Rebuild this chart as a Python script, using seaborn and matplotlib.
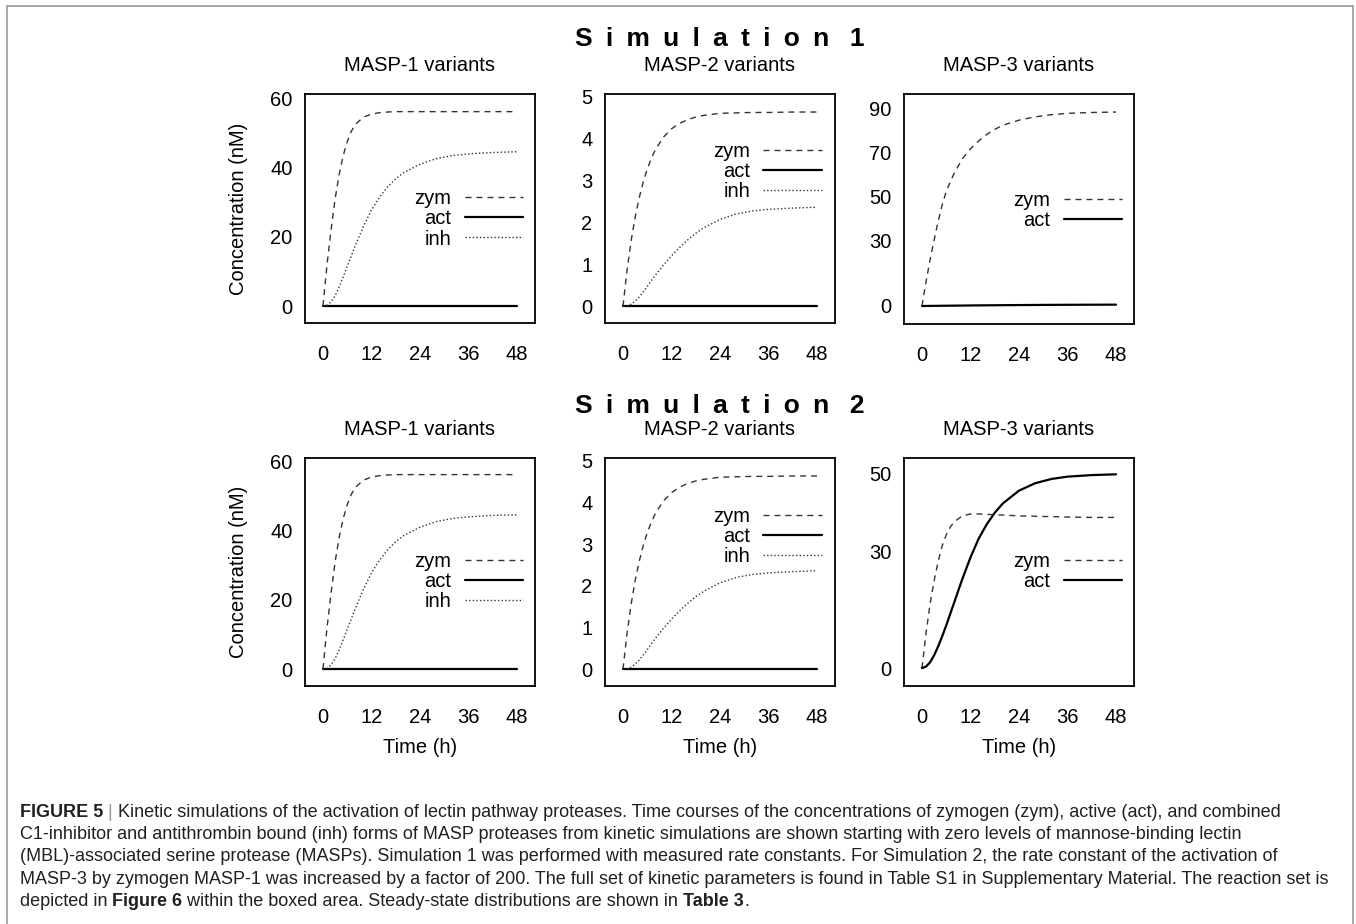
import matplotlib
matplotlib.use("Agg")
import matplotlib.pyplot as plt
from matplotlib.lines import Line2D
import numpy as np
import seaborn as sns

# time grid (h) and concentrations (nM)
hours = [0, 1, 2, 3, 4, 5, 6, 7, 8, 10, 12, 14, 16, 18, 20, 24, 28, 32, 36, 42, 48]

masp1_zym = [0, 12, 22, 31, 38, 43.5, 47.5, 50.5, 52.5, 54.6, 55.5, 55.9, 56.1, 56.2, 56.2,
             56.2, 56.2, 56.2, 56.2, 56.2, 56.2]
masp1_act = [0, 0, 0, 0, 0, 0, 0, 0, 0, 0, 0, 0, 0, 0, 0, 0, 0, 0, 0, 0, 0]
masp1_inh = [0, 0.2, 1.2, 3.0, 5.5, 8.5, 11.5, 14.5, 17.5, 23, 27.8, 31.5, 34.5, 36.8, 38.6,
             41.0, 42.6, 43.5, 44.0, 44.4, 44.6]

masp2_zym = [0, 0.86, 1.55, 2.12, 2.58, 2.96, 3.27, 3.52, 3.73, 4.03, 4.23, 4.36, 4.45, 4.51,
             4.55, 4.60, 4.61, 4.62, 4.62, 4.63, 4.63]
masp2_act = [0, 0, 0, 0, 0, 0, 0, 0, 0, 0, 0, 0, 0, 0, 0, 0, 0, 0, 0, 0, 0]
masp2_inh = [0, 0.01, 0.05, 0.12, 0.22, 0.34, 0.47, 0.61, 0.74, 0.98, 1.2, 1.4, 1.58, 1.74,
             1.87, 2.07, 2.2, 2.27, 2.31, 2.34, 2.36]

masp3_zym_sim1 = [0, 11, 21, 30, 38.5, 46, 52, 56.5, 60.5, 67, 71.5, 75, 78, 80.3, 82.2,
                  84.5, 86, 87, 87.6, 88, 88.2]
masp3_act_sim1 = [0, 0.01, 0.03, 0.05, 0.07, 0.09, 0.11, 0.13, 0.15, 0.19, 0.23, 0.27, 0.3,
                  0.33, 0.36, 0.41, 0.46, 0.5, 0.53, 0.57, 0.6]

masp3_zym_sim2 = [0, 9, 16.5, 22.5, 27.5, 31.5, 34.3, 36.3, 37.7, 39.2, 39.7, 39.7, 39.6,
                  39.5, 39.4, 39.2, 39.1, 39.0, 38.9, 38.8, 38.8]
masp3_act_sim2 = [0, 0.4, 1.5, 3.3, 5.6, 8.2, 11, 14, 17, 23, 28.5, 33.3, 37, 40, 42.4,
                  45.7, 47.6, 48.7, 49.3, 49.7, 49.9]

x_ticks = [0, 12, 24, 36, 48]

sns.set_style("white")
plt.rcParams['font.family'] = ['Liberation Sans', 'DejaVu Sans']
plt.rcParams['text.color'] = 'black'
plt.rcParams['axes.labelcolor'] = 'black'
plt.rcParams['xtick.color'] = 'black'
plt.rcParams['ytick.color'] = 'black'

FS = 14.5
W, H = 1356, 924
fig = plt.figure(figsize=(W / 100, H / 100), dpi=100)
fig.patch.set_facecolor("white")

dash = (0, (4.3, 3.6))
dot = (0, (1, 1.6))

panels = [
    # title, box px (left, top, bottom), ylim, yticks, series, legend anchor
    ("MASP-1 variants", (305, 94, 323), (-4.9, 61.3), [0, 20, 40, 60],
     [("zym", masp1_zym), ("act", masp1_act), ("inh", masp1_inh)], (0.948, 0.583)),
    ("MASP-2 variants", (605, 94, 323), (-0.4, 5.06), [0, 1, 2, 3, 4, 5],
     [("zym", masp2_zym), ("act", masp2_act), ("inh", masp2_inh)], (0.943, 0.792)),
    ("MASP-3 variants", (904, 94, 324), (-8.2, 96.4), [0, 30, 50, 70, 90],
     [("zym", masp3_zym_sim1), ("act", masp3_act_sim1)], (0.948, 0.578)),
    ("MASP-1 variants", (305, 458, 686), (-4.9, 61.0), [0, 20, 40, 60],
     [("zym", masp1_zym), ("act", masp1_act), ("inh", masp1_inh)], (0.948, 0.589)),
    ("MASP-2 variants", (605, 458, 686), (-0.4, 5.06), [0, 1, 2, 3, 4, 5],
     [("zym", masp2_zym), ("act", masp2_act), ("inh", masp2_inh)], (0.943, 0.787)),
    ("MASP-3 variants", (904, 458, 686), (-4.6, 54.1), [0, 30, 50],
     [("zym", masp3_zym_sim2), ("act", masp3_act_sim2)], (0.948, 0.589)),
]

styles = {"zym": (dash, "#333333", 1.0),
          "act": ("-", "black", 1.6),
          "inh": (dot, "#333333", 1.0)}

for i, (title, (bl, bt, bb), ylim, yticks, series, leg) in enumerate(panels):
    ax = fig.add_axes([bl / W, 1 - bb / H, 230 / W, (bb - bt) / H])
    for name, vals in series:
        ls, col, lw = styles[name]
        sns.lineplot(x=hours, y=vals, ax=ax, color=col, linestyle=ls, linewidth=lw,
                     label=name, errorbar=None)
    ax.set_xlim(-4.45, 52.45)
    ax.set_ylim(*ylim)
    ax.set_xticks(x_ticks)
    ax.set_yticks(yticks)
    ax.tick_params(direction="out", length=5.5, width=1, labelsize=FS, colors="black")
    ax.tick_params(axis="x", pad=10.5)
    ax.tick_params(axis="y", pad=3.5)
    for sp in ax.spines.values():
        sp.set_visible(True)
        sp.set_color("black")
        sp.set_linewidth(1.3)
    ax.set_title(title, fontsize=FS, pad=16.5, color="black")
    ax.set_xlabel("")
    ax.set_ylabel("")
    if i % 3 == 0:
        ax.set_ylabel("Concentration (nM)", fontsize=FS)
        ax.yaxis.set_label_coords(-0.25, 0.5)
    if i >= 3:
        ax.set_xlabel("Time (h)", fontsize=FS, labelpad=8)
    ax.legend(loc="upper right", bbox_to_anchor=leg, frameon=False, markerfirst=False,
              handlelength=2.9, handletextpad=0.65, labelspacing=0.05, borderpad=0,
              borderaxespad=0, fontsize=FS, labelcolor="black")

sim_font = ['Liberation Sans', 'DejaVu Sans']
sp_ = "\u2002"
fig.text(720 / W, 1 - 46 / H, sp_.join("Simulation") + sp_ + " 1",
         ha="center", va="baseline", fontsize=19, fontweight="bold", family=sim_font)
fig.text(720 / W, 1 - 413 / H, sp_.join("Simulation") + sp_ + " 2",
         ha="center", va="baseline", fontsize=19, fontweight="bold", family=sim_font)

# caption
ink = "#231f20"
cap_lines = [
    [("FIGURE 5", "bold", ink), (" | ", "normal", "#9a9a9a"),
     ("Kinetic simulations of the activation of lectin pathway proteases. Time courses of the "
      "concentrations of zymogen (zym), active (act), and combined", "normal", ink)],
    [("C1-inhibitor and antithrombin bound (inh) forms of MASP proteases from kinetic simulations "
      "are shown starting with zero levels of mannose-binding lectin", "normal", ink)],
    [("(MBL)-associated serine protease (MASPs). Simulation 1 was performed with measured rate "
      "constants. For Simulation 2, the rate constant of the activation of", "normal", ink)],
    [("MASP-3 by zymogen MASP-1 was increased by a factor of 200. The full set of kinetic "
      "parameters is found in Table S1 in Supplementary Material. The reaction set is",
      "normal", ink)],
    [("depicted in ", "normal", ink), ("Figure 6", "bold", ink),
     (" within the boxed area. Steady-state distributions are shown in ", "normal", ink),
     ("Table 3", "bold", ink), (".", "normal", ink)],
]
cap_base = [817, 839, 861, 884, 906]
renderer = fig.canvas.get_renderer()
for segs, yb in zip(cap_lines, cap_base):
    x = 20
    for txt, wt, col in segs:
        t = fig.text(x / W, 1 - yb / H, txt, ha="left", va="baseline", fontsize=13.0,
                     fontweight=wt, color=col, family=['Liberation Sans', 'DejaVu Sans'])
        x += t.get_window_extent(renderer=renderer).width

# grey frame around the figure
fc = "#9a9a9a"
fig.add_artist(Line2D([7 / W, 1353 / W], [1 - 6 / H, 1 - 6 / H], color=fc, lw=1.2))
fig.add_artist(Line2D([7 / W, 7 / W], [1 - 6 / H, 0], color=fc, lw=1.2))
fig.add_artist(Line2D([1353 / W, 1353 / W], [1 - 6 / H, 0], color=fc, lw=1.2))

plt.savefig("out.png", dpi=100)
